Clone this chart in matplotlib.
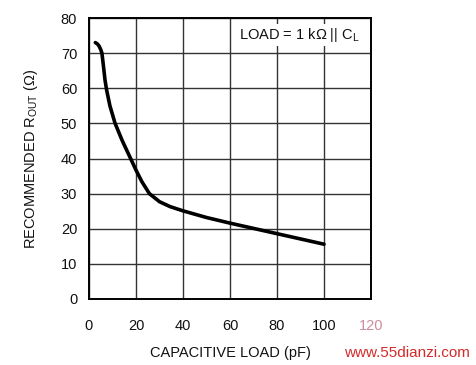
import matplotlib
matplotlib.use("Agg")
import matplotlib.pyplot as plt

plt.rcParams['font.family'] = ['Liberation Sans', 'DejaVu Sans']
plt.rcParams['mathtext.default'] = 'regular'

cap_pf = [2.7, 3.6, 4.3, 5.0, 5.5, 6.2, 6.8, 7.5, 8.9, 11.1, 14.2, 17.7, 20.0, 22.5, 25.7, 30.0, 34.5, 40, 50, 60, 70, 80, 90, 100]
r_out = [73.0, 72.6, 72.0, 71.0, 70.0, 66.0, 62.4, 59.5, 55.0, 50.0, 45.0, 40.0, 36.7, 33.4, 30.0, 27.7, 26.3, 25.1, 23.2, 21.6, 20.1, 18.6, 17.1, 15.6]

x_ticks = [0, 20, 40, 60, 80, 100, 120]
y_ticks = [0, 10, 20, 30, 40, 50, 60, 70, 80]

fig = plt.figure(figsize=(4.77, 3.65), dpi=100)
ax = fig.add_axes([89/477, 1 - 299/365, (371 - 89)/477, (299 - 18)/365])

ax.plot(cap_pf, r_out, color='black', lw=2.6, solid_capstyle='round',
        solid_joinstyle='round', zorder=3)

ax.set_xlim(0, 120)
ax.set_ylim(0, 80)
ax.set_xticks(x_ticks)
ax.set_yticks(y_ticks)
ax.grid(True, color='#333333', lw=1.0)
ax.set_axisbelow(True)
for s in ax.spines.values():
    s.set_linewidth(1.4)
    s.set_color('black')

ax.tick_params(axis='x', length=0, pad=14.5, labelsize=10.5, colors='#111111')
ax.tick_params(axis='y', length=0, pad=8.5, labelsize=10.5, colors='#111111')
labels = ax.get_xticklabels()
labels[-1].set_color('#c07080')
labels[-1].set_alpha(0.8)

ax.set_xlabel('CAPACITIVE LOAD (pF)', fontsize=10.5, labelpad=9, color='#111111')
ax.set_ylabel('RECOMMENDED R$_{OUT}$ (\u03a9)', fontsize=10.5, labelpad=15, color='#111111')

ax.text(89.5, 75.1, 'LOAD = 1 k\u03a9 || C$_{L}$', fontsize=10.5, ha='center', va='center',
        color='#111111', zorder=4,
        bbox=dict(facecolor='white', edgecolor='none', pad=1.5))

fig.text(407 / 477, 1 - 353 / 365, 'www.55dianzi.com', color='#d42a2a', fontsize=11,
         ha='center', va='center')

fig.savefig('out.png', dpi=100, facecolor='white')
